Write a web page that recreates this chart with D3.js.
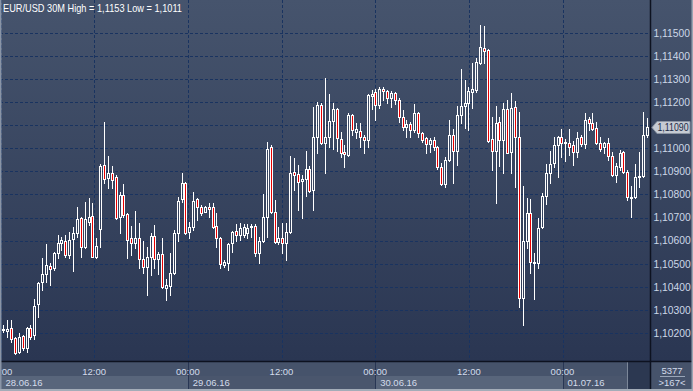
<!DOCTYPE html>
<html><head><meta charset="utf-8">
<script src="https://cdn.jsdelivr.net/npm/d3@7/dist/d3.min.js"></script>
<style>html,body{margin:0;padding:0;background:#3a4660;}svg{display:block;}</style>
</head><body>
<svg id="chart" width="693" height="391"></svg>
<script>
const title = "EUR/USD 30M  High = 1,1153 Low = 1,1011";
const openV = [1.10213,1.10210,1.10221,1.10177,1.10117,1.10187,1.10134,1.10221,1.10192,1.10326,1.10422,1.10456,1.10492,1.10480,1.10546,1.10589,1.10600,1.10538,1.10606,1.10635,1.10697,1.10574,1.10682,1.10707,1.10531,1.10649,1.10926,1.10873,1.10892,1.10877,1.10704,1.10798,1.10716,1.10610,1.10589,1.10610,1.10520,1.10488,1.10528,1.10620,1.10522,1.10542,1.10394,1.10404,1.10459,1.10632,1.10779,1.10848,1.10639,1.10658,1.10779,1.10747,1.10726,1.10745,1.10747,1.10664,1.10610,1.10496,1.10505,1.10589,1.10643,1.10623,1.10625,1.10633,1.10658,1.10664,1.10546,1.10600,1.10701,1.11007,1.10724,1.10596,1.10610,1.10589,1.10639,1.10899,1.10889,1.10860,1.10866,1.10909,1.10820,1.11048,1.11188,1.11022,1.11048,1.11119,1.11169,1.11039,1.10984,1.10971,1.11144,1.11072,1.11075,1.11048,1.11036,1.11226,1.11245,1.11188,1.11255,1.11249,1.11217,1.11238,1.11209,1.11137,1.11091,1.11105,1.11079,1.11151,1.11067,1.11043,1.11019,1.11036,1.11007,1.10920,1.10845,1.10949,1.11058,1.10990,1.11144,1.11183,1.11197,1.11245,1.11252,1.11371,1.11433,1.11426,1.11039,1.10990,1.11115,1.11036,1.11169,1.10985,1.11178,1.11050,1.10351,1.10600,1.10721,1.10509,1.10505,1.10658,1.10794,1.10894,1.10935,1.11014,1.11050,1.11022,1.11024,1.11014,1.10985,1.11050,1.11019,1.11126,1.11108,1.11087,1.11024,1.11004,1.11022,1.10967,1.10884,1.10918,1.10985,1.10899,1.10785,1.10790,1.10874,1.10880,1.11058];
const highV = [1.10235,1.10257,1.10257,1.10184,1.10199,1.10192,1.10228,1.10235,1.10346,1.10422,1.10524,1.10586,1.10502,1.10552,1.10625,1.10617,1.10625,1.10639,1.10661,1.10745,1.10704,1.10769,1.10784,1.10765,1.10610,1.10932,1.11115,1.10967,1.10923,1.10883,1.10812,1.10845,1.10719,1.10664,1.10729,1.10678,1.10600,1.10571,1.10632,1.10668,1.10552,1.10610,1.10433,1.10546,1.10646,1.10791,1.10894,1.10854,1.10682,1.10811,1.10784,1.10753,1.10750,1.10765,1.10762,1.10719,1.10617,1.10516,1.10591,1.10643,1.10672,1.10675,1.10672,1.10672,1.10672,1.10672,1.10617,1.10802,1.11029,1.11014,1.10776,1.10661,1.10675,1.10675,1.10967,1.10957,1.10928,1.10884,1.10990,1.10923,1.11180,1.11202,1.11195,1.11303,1.11235,1.11195,1.11173,1.11072,1.11014,1.11151,1.11148,1.11108,1.11108,1.11058,1.11235,1.11252,1.11255,1.11267,1.11267,1.11252,1.11249,1.11245,1.11217,1.11166,1.11122,1.11115,1.11192,1.11155,1.11072,1.11050,1.11043,1.11048,1.11010,1.10935,1.10964,1.11122,1.11082,1.11183,1.11342,1.11296,1.11267,1.11371,1.11390,1.11534,1.11529,1.11430,1.11137,1.11183,1.11137,1.11195,1.11209,1.11238,1.11206,1.11159,1.10837,1.10784,1.10779,1.10546,1.10697,1.10808,1.10932,1.10990,1.11050,1.11053,1.11082,1.11039,1.11082,1.11033,1.11072,1.11058,1.11151,1.11134,1.11154,1.11115,1.11048,1.11029,1.11043,1.10985,1.10935,1.10993,1.10990,1.10906,1.10837,1.10932,1.10985,1.11159,1.11130];
const lowV = [1.10205,1.10182,1.10163,1.10110,1.10113,1.10127,1.10120,1.10173,1.10173,1.10271,1.10387,1.10422,1.10408,1.10473,1.10524,1.10560,1.10531,1.10524,1.10470,1.10617,1.10528,1.10567,1.10668,1.10528,1.10524,1.10574,1.10848,1.10828,1.10828,1.10693,1.10632,1.10704,1.10524,1.10538,1.10567,1.10480,1.10459,1.10365,1.10452,1.10480,1.10456,1.10394,1.10343,1.10365,1.10456,1.10600,1.10769,1.10629,1.10610,1.10646,1.10690,1.10711,1.10723,1.10704,1.10654,1.10574,1.10480,1.10485,1.10473,1.10552,1.10600,1.10603,1.10617,1.10612,1.10617,1.10534,1.10505,1.10596,1.10617,1.10719,1.10591,1.10586,1.10546,1.10516,1.10635,1.10820,1.10733,1.10697,1.10793,1.10812,1.10733,1.10981,1.11019,1.10892,1.11004,1.10996,1.10990,1.10961,1.10920,1.10967,1.11058,1.11043,1.11007,1.10978,1.11007,1.11169,1.11122,1.11173,1.11209,1.11197,1.11178,1.11192,1.11115,1.11079,1.11048,1.11048,1.11072,1.11048,1.11029,1.10978,1.10985,1.10993,1.10909,1.10841,1.10834,1.10946,1.10848,1.10928,1.11108,1.11087,1.11079,1.11173,1.11245,1.11365,1.11371,1.11029,1.10906,1.10765,1.10923,1.10894,1.10978,1.10894,1.10834,1.10312,1.10235,1.10567,1.10459,1.10346,1.10480,1.10654,1.10759,1.10848,1.10920,1.10877,1.10964,1.10946,1.10971,1.10928,1.10964,1.11010,1.11000,1.11079,1.11079,1.11019,1.10990,1.10978,1.10949,1.10880,1.10855,1.10906,1.10894,1.10776,1.10704,1.10784,1.10834,1.10877,1.11048];
const closeV = [1.10216,1.10218,1.10173,1.10113,1.10182,1.10134,1.10221,1.10184,1.10317,1.10416,1.10456,1.10495,1.10476,1.10546,1.10589,1.10603,1.10538,1.10603,1.10635,1.10693,1.10571,1.10693,1.10701,1.10531,1.10577,1.10923,1.10866,1.10894,1.10863,1.10697,1.10798,1.10711,1.10603,1.10589,1.10610,1.10520,1.10488,1.10531,1.10620,1.10520,1.10542,1.10401,1.10408,1.10459,1.10632,1.10773,1.10848,1.10635,1.10658,1.10773,1.10745,1.10721,1.10747,1.10736,1.10658,1.10610,1.10499,1.10508,1.10586,1.10638,1.10623,1.10655,1.10661,1.10655,1.10662,1.10546,1.10600,1.10704,1.10996,1.10726,1.10596,1.10610,1.10589,1.10639,1.10894,1.10884,1.10855,1.10866,1.10909,1.10816,1.11048,1.11188,1.11022,1.11048,1.11118,1.11169,1.11043,1.10981,1.10975,1.11144,1.11079,1.11082,1.11048,1.11036,1.11231,1.11235,1.11188,1.11255,1.11247,1.11217,1.11238,1.11209,1.11137,1.11091,1.11105,1.11079,1.11151,1.11067,1.11036,1.11019,1.11036,1.11004,1.10920,1.10845,1.10949,1.11058,1.10990,1.11144,1.11183,1.11197,1.11249,1.11255,1.11375,1.11437,1.11422,1.11033,1.10990,1.11111,1.11036,1.11169,1.10981,1.11173,1.11050,1.10351,1.10600,1.10721,1.10509,1.10502,1.10654,1.10794,1.10892,1.10932,1.11014,1.11050,1.11022,1.11029,1.11007,1.10985,1.11043,1.11019,1.11122,1.11111,1.11082,1.11024,1.10996,1.11022,1.10967,1.10884,1.10923,1.10981,1.10899,1.10788,1.10790,1.10874,1.10880,1.11058,1.11090];
const priceTicks = [1.102,1.103,1.104,1.105,1.106,1.107,1.108,1.109,1.110,1.111,1.112,1.113,1.114,1.115];
const timeTicks = ["2016-06-28T00:00","2016-06-28T12:00","2016-06-29T00:00","2016-06-29T12:00","2016-06-30T00:00","2016-06-30T12:00","2016-07-01T00:00"];
const timeLabels = ["00:00","12:00","00:00","12:00","00:00","12:00","00:00"];
const dayStarts = ["2016-06-28T00:00","2016-06-29T00:00","2016-06-30T00:00","2016-07-01T00:00"];
const dayLabels = ["28.06.16","29.06.16","30.06.16","01.07.16"];
const barCount = "5377";
const visibleBars = ">167<";

const W = 693, H = 391, PR = 650, PB = 361;
const n = openV.length;
const FONT = "'Liberation Sans', Arial, sans-serif";
const svg = d3.select("#chart");
const defs = svg.append("defs");
const g1 = defs.append("linearGradient").attr("id","bg").attr("x1",0).attr("y1",0).attr("x2",0).attr("y2",1);
g1.append("stop").attr("offset","0%").attr("stop-color","#46546d");
g1.append("stop").attr("offset","100%").attr("stop-color","#2a3652");
defs.append("clipPath").attr("id","plotclip").append("rect").attr("x",0).attr("y",0).attr("width",PR).attr("height",PB);

svg.append("rect").attr("x",0).attr("y",0).attr("width",W).attr("height",PB).attr("fill","url(#bg)");

const x = d3.scaleLinear().domain([0, n-1]).range([3.3, 646.7]);
const y = d3.scaleLinear().domain([1.10092, 1.11642]).range([358, 0]);
const parse = d3.timeParse("%Y-%m-%dT%H:%M");
const tx = d3.scaleTime().domain([parse("2016-06-28T00:00"), parse("2016-07-01T00:00")]).range([0.5, 562.5]);

const plot = svg.append("g").attr("clip-path","url(#plotclip)");
// grid
plot.selectAll("line.hg").data(priceTicks).join("line")
  .attr("x1",0).attr("x2",PR)
  .attr("y1",d=>Math.round(y(d))+0.5).attr("y2",d=>Math.round(y(d))+0.5)
  .attr("stroke","#193360").attr("stroke-dasharray","3,2").attr("stroke-width",1);
plot.selectAll("line.vg").data(timeTicks).join("line")
  .attr("y1",0).attr("y2",PB)
  .attr("x1",d=>Math.round(tx(parse(d)))+0.5).attr("x2",d=>Math.round(tx(parse(d)))+0.5)
  .attr("stroke","#193360").attr("stroke-dasharray","3,2").attr("stroke-width",1);

// candles
const data = d3.range(n).map(i=>({i,o:openV[i],h:highV[i],l:lowV[i],c:closeV[i]}));
const cg = plot.append("g");
data.forEach(d=>{
  const px = Math.round(x(d.i));
  let yT = Math.round(y(Math.max(d.o,d.c)));
  let yB = Math.round(y(Math.min(d.o,d.c)));
  if (yB - yT < 1) yB = yT + 1;
  const yH = Math.round(y(Math.max(d.h, d.o, d.c)));
  const yL = Math.round(y(Math.min(d.l, d.o, d.c)));
  if (yH < yT) cg.append("line").attr("x1",px+0.5).attr("x2",px+0.5).attr("y1",yH).attr("y2",yT).attr("stroke","#ffffff");
  if (yL > yB) cg.append("line").attr("x1",px+0.5).attr("x2",px+0.5).attr("y1",yB+1).attr("y2",yL+1).attr("stroke","#ffffff");
  cg.append("rect").attr("x",px-0.5).attr("y",yT+0.5).attr("width",2).attr("height",yB-yT)
    .attr("fill", d.c < d.o ? "#e80000" : "none").attr("stroke","#ffffff").attr("stroke-width",1);
});

// title
svg.append("text").attr("x",3).attr("y",12).attr("fill","#ffffff")
  .attr("font-family",FONT).attr("font-size",10.5)
  .attr("textLength",179).attr("lengthAdjust","spacingAndGlyphs").text(title);

// right axis
const last = closeV[n-1];
const yLast = Math.round(y(last));
const axisG = svg.append("g").attr("transform",`translate(${PR},0)`)
  .call(d3.axisRight(y).tickValues(priceTicks.filter(t=>Math.abs(y(t)-yLast)>9))
    .tickSize(0).tickPadding(3.5).tickFormat(d=>d.toFixed(5).replace(".",",")));
axisG.select(".domain").remove();
axisG.selectAll("text").attr("fill","#cdd8e8").attr("font-family",FONT).attr("font-size",10.3);

// bottom panel
svg.append("rect").attr("x",0).attr("y",PB).attr("width",W).attr("height",H-PB).attr("fill","#46536b");
svg.append("rect").attr("x",0).attr("y",376).attr("width",PR).attr("height",13).attr("fill","#4a566d");
dayStarts.forEach((d,k)=>{
  const x0 = Math.max(0, Math.round(tx(parse(d))));
  const x1 = k < dayStarts.length-1 ? Math.round(tx(parse(dayStarts[k+1]))) : 628;
  if (k % 2 === 0) svg.append("rect").attr("x",x0).attr("y",376).attr("width",x1-x0).attr("height",13).attr("fill","#58657b");
});
svg.append("rect").attr("x",628).attr("y",362).attr("width",22).attr("height",27).attr("fill","#2c3851");
svg.append("line").attr("x1",627.5).attr("x2",627.5).attr("y1",362).attr("y2",389).attr("stroke","#7c8799");
dayStarts.forEach(d=>{
  const xx = Math.round(tx(parse(d)))+0.5;
  if (xx > 2) svg.append("line").attr("x1",xx).attr("x2",xx).attr("y1",362).attr("y2",389).attr("stroke","#283654");
});
svg.selectAll("text.tl").data(timeTicks).join("text")
  .attr("x",d=>tx(parse(d))).attr("y",375).attr("text-anchor","middle")
  .attr("fill","#d4dceb").attr("font-family",FONT).attr("font-size",9.5)
  .text((d,i)=>timeLabels[i]);
svg.selectAll("text.dl").data(dayStarts).join("text")
  .attr("x",d=>Math.max(0,tx(parse(d)))+5).attr("y",386)
  .attr("fill","#d4dceb").attr("font-family",FONT).attr("font-size",9.5)
  .text((d,i)=>dayLabels[i]);

// separators
svg.append("line").attr("x1",0).attr("x2",W).attr("y1",361.5).attr("y2",361.5).attr("stroke","#0d1220").attr("stroke-width",1.5);
svg.append("line").attr("x1",650.5).attr("x2",650.5).attr("y1",0).attr("y2",389).attr("stroke","#0d1220").attr("stroke-width",1.5);

// bottom right box
svg.append("text").attr("x",672).attr("y",373.5).attr("text-anchor","middle").attr("fill","#d4dceb")
  .attr("font-family",FONT).attr("font-size",9.5).text(barCount);
svg.append("line").attr("x1",660).attr("x2",685).attr("y1",376.5).attr("y2",376.5).attr("stroke","#9aa6b8");
svg.append("text").attr("x",672).attr("y",386).attr("text-anchor","middle").attr("fill","#d4dceb")
  .attr("font-family",FONT).attr("font-size",9.5).text(visibleBars);

// current price marker
const yc = yLast + 0.5;
svg.append("path").attr("d",`M652,${yc} L657,${yc-6} L690,${yc-6} L690,${yc+6} L657,${yc+6} Z`)
  .attr("fill","#c6cbd3").attr("stroke","#8d96a4").attr("stroke-width",1);
svg.append("text").attr("x",657.5).attr("y",yc+3.5).attr("fill","#1c2a46")
  .attr("font-family",FONT).attr("font-size",10).attr("textLength",31).attr("lengthAdjust","spacingAndGlyphs")
  .text(last.toFixed(5).replace(".",","));

// frame
svg.append("rect").attr("x",0).attr("y",0).attr("width",1.5).attr("height",H).attr("fill","#8a95a7");
svg.append("rect").attr("x",691.5).attr("y",0).attr("width",1.5).attr("height",H).attr("fill","#9aa4b2");
svg.append("rect").attr("x",0).attr("y",389).attr("width",W).attr("height",2).attr("fill","#a3acb8");
</script>
</body></html>
